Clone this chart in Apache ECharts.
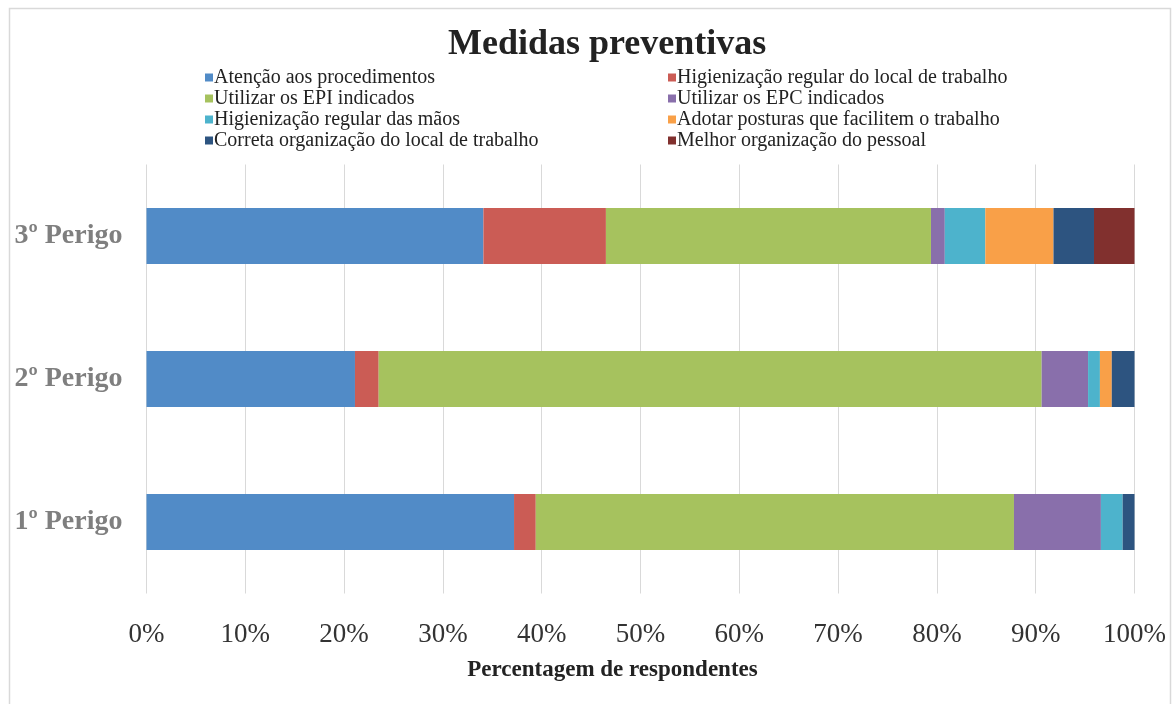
<!DOCTYPE html>
<html>
<head>
<meta charset="utf-8">
<script src="https://cdn.jsdelivr.net/npm/echarts@6/dist/echarts.min.js"></script>
<style>
html,body{margin:0;padding:0;background:#fff;}
#chart{width:1175px;height:704px;}
</style>
</head>
<body>
<div id="chart"></div>
<script>
const categories = ['1º Perigo', '2º Perigo', '3º Perigo'];
const seriesNames = [
  'Atenção aos procedimentos',
  'Higienização regular do local de trabalho',
  'Utilizar os EPI indicados',
  'Utilizar os EPC indicados',
  'Higienização regular das mãos',
  'Adotar posturas que facilitem o trabalho',
  'Correta organização do local de trabalho',
  'Melhor organização do pessoal'
];
const atencao      = [37.2, 21.1, 34.1];
const higLocal     = [2.2, 2.4, 12.4];
const epi          = [48.4, 67.1, 32.9];
const epc          = [8.8, 4.7, 1.4];
const higMaos      = [2.2, 1.2, 4.1];
const posturas     = [0, 1.2, 6.9];
const organizacao  = [1.2, 2.3, 4.1];
const pessoal      = [0, 0, 4.1];
const xTicks = [0, 10, 20, 30, 40, 50, 60, 70, 80, 90, 100];

const seriesData = [atencao, higLocal, epi, epc, higMaos, posturas, organizacao, pessoal];
const colors = ['#518bc7', '#cb5c55', '#a6c25e', '#896fab', '#4db3cc', '#f9a048', '#2d5480', '#81302e'];
const serif = '"Liberation Serif", "DejaVu Serif", serif';

const chart = echarts.init(document.getElementById('chart'));
const legendCommon = {
  orient: 'vertical',
  top: 62,
  itemWidth: 8,
  itemHeight: 8,
  itemGap: 0,
  icon: 'rect',
  textStyle: { fontFamily: serif, fontSize: 20, color: '#222', lineHeight: 21, padding: [0, 0, 0, -4] }
};
chart.setOption({
  backgroundColor: '#fff',
  color: colors,
  animation: false,
  graphic: [{
    type: 'rect', left: 7, top: 6,
    shape: { width: 1161, height: 710 },
    style: { fill: 'none', stroke: '#d9d9d9', lineWidth: 1.5 }
  }],
  title: {
    text: 'Medidas preventivas',
    left: 443,
    top: 22,
    textStyle: { fontFamily: serif, fontSize: 36, fontWeight: 'bold', color: '#222' }
  },
  legend: [
    Object.assign({ left: 200, data: [seriesNames[0], seriesNames[2], seriesNames[4], seriesNames[6]] }, legendCommon),
    Object.assign({ left: 663, data: [seriesNames[1], seriesNames[3], seriesNames[5], seriesNames[7]] }, legendCommon)
  ],
  grid: { left: 146.5, right: 40.5, top: 164.5, height: 429 },
  xAxis: {
    type: 'value',
    min: xTicks[0],
    max: xTicks[xTicks.length - 1],
    interval: 10,
    axisLine: { show: false },
    axisTick: { show: false },
    splitLine: { show: true, lineStyle: { color: '#d9d9d9', width: 1 } },
    axisLabel: { formatter: '{value}%', fontFamily: serif, fontSize: 27, color: '#333', margin: 28 },
    name: 'Percentagem de respondentes',
    nameLocation: 'middle',
    nameGap: 65,
    nameTextStyle: { fontFamily: serif, fontSize: 23, fontWeight: 'bold', color: '#222', padding: [0, 56, 0, 0] }
  },
  yAxis: {
    type: 'category',
    data: categories,
    axisLine: { show: false },
    axisTick: { show: false },
    axisLabel: { fontFamily: serif, fontSize: 28, fontWeight: 'bold', color: '#7f7f7f', margin: 24 }
  },
  series: seriesNames.map((name, i) => ({
    name: name,
    type: 'bar',
    stack: 'total',
    barWidth: 56,
    data: seriesData[i],
    itemStyle: { color: colors[i] }
  }))
});
</script>
</body>
</html>
